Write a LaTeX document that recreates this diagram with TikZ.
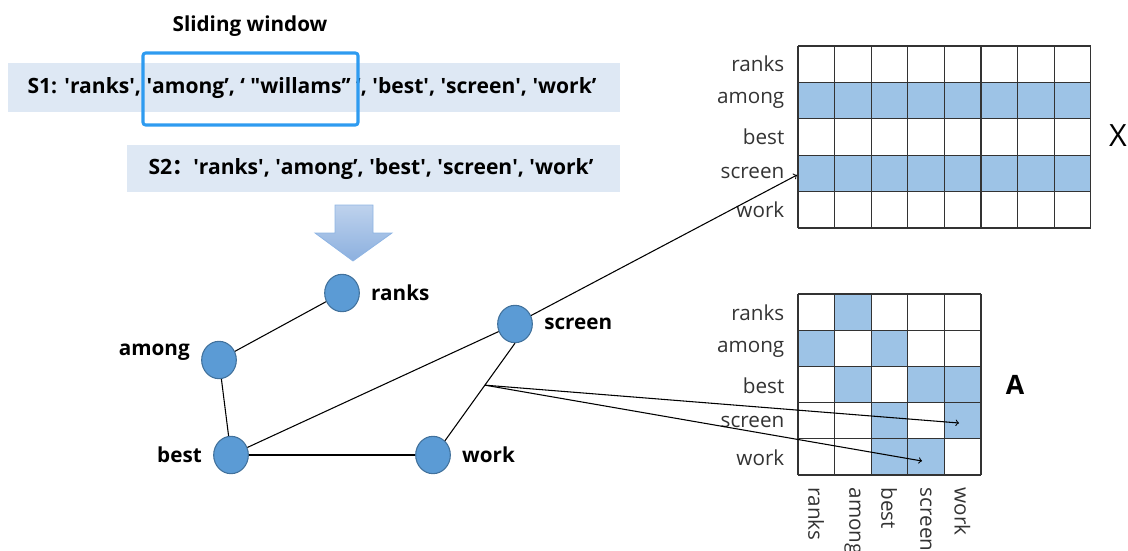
\documentclass[tikz,border=0pt]{standalone}
\usepackage{fontspec}
\setmainfont{Open Sans}
\newfontfamily\cjk{Noto Sans CJK SC}
\usetikzlibrary{calc,shapes.geometric}
\definecolor{band}{HTML}{DEE8F4}
\definecolor{window}{HTML}{2E9BF0}
\definecolor{wordfill}{HTML}{5B9BD5}
\definecolor{wordline}{HTML}{41719C}
\definecolor{cellfill}{HTML}{9DC3E6}
\definecolor{arrowtop}{HTML}{BED2ED}
\definecolor{arrowbot}{HTML}{8CB0DF}
\definecolor{arrowline}{HTML}{8EB4E3}
\definecolor{gridtext}{HTML}{333333}
\newcommand{\sq}{\textquotesingle}
\tikzset{
  word/.style={ellipse,fill=wordfill,draw=wordline,line width=0.8pt,
    minimum width=26pt,minimum height=28pt,inner sep=0pt},
  wordlbl/.style={font=\bfseries\fontsize{15.5}{18}\selectfont,label distance=5pt},
  rowlbl/.style={anchor=east,text=gridtext,font=\fontsize{15.5}{18}\selectfont},
  collbl/.style={anchor=west,rotate=-90,text=gridtext,font=\fontsize{15.5}{18}\selectfont},
  sentence/.style={font=\bfseries\fontsize{15.8}{19}\selectfont}
}

\begin{document}
\begin{tikzpicture}[x=0.75pt,y=-0.75pt]
\useasboundingbox (0,0) rectangle (1128,550);

% sentences and sliding window
\node[font=\bfseries\fontsize{15.5}{18}\selectfont] (title) at (250,26) {Sliding window};
\fill[band] (8,63) rectangle (620,112);
\fill[band] (127,145) rectangle (620,192);
\node[sentence] (s1) at (312,88) {S1: \sq ranks\sq, \sq among’, ‘ \textquotedbl willams’’ ‘, \sq best\sq, \sq screen\sq, \sq work’};
\node[sentence] (s2) at (371,169) {S2{\cjk ：}\sq ranks\sq, \sq among’, \sq best\sq, \sq screen\sq, \sq work’};
\draw[window,line width=2.3pt,rounded corners=2pt] (143,53) rectangle (358,125);

% down arrow
\shadedraw[top color=arrowtop,bottom color=arrowbot,draw=arrowline,line width=0.6pt]
  (335,205) -- (373,205) -- (373,233) -- (392,233) -- (353,261) -- (315,233) -- (335,233) -- cycle;

% graph
\node[word,label={[wordlbl]right:ranks}] (ranks) at (342,293) {};
\node[word,label={[wordlbl,yshift=6pt]left:among}] (among) at (219,360) {};
\node[word,label={[wordlbl]left:best}] (best) at (231,455) {};
\node[word,label={[wordlbl]right:work}] (work) at (433,455) {};
\node[word,label={[wordlbl]right:screen}] (screen) at (515,324) {};

\draw[line width=0.8pt] (ranks) -- (among);
\draw[line width=0.8pt] (among) -- (best);
\draw[line width=0.8pt] (best) -- (work);
\draw[line width=0.8pt] (best) -- (screen);
\draw[line width=0.8pt] (screen.south) -- coordinate[pos=0.43] (fork) (work.50);

% matrix X
\foreach \r in {1,3}
  \foreach \c in {0,...,7}
    \fill[cellfill] (798+36.6*\c,46+36.4*\r) rectangle ++(36.6,36.4);
\foreach \c in {0,...,8}
  \draw[gridtext,line width=0.8pt] (798+36.6*\c,46) -- (798+36.6*\c,228);
\foreach \r in {0,...,5}
  \draw[gridtext,line width=0.8pt] (798,46+36.4*\r) -- (1091,46+36.4*\r);
\foreach \w [count=\r from 0] in {ranks,among,best,screen,work}
  \node[rowlbl] (X-\w) at (789,64+36.4*\r) {\w};
\coordinate (Xscreen) at (797,175);
\node[font=\fontsize{23}{27}\selectfont] (Xname) at (1118,136) {X};

% matrix A
\foreach \r/\c in {0/1,1/0,1/2,2/1,2/3,2/4,3/2,3/4,4/2,4/3}
  \fill[cellfill] (798+36.6*\c,294+36.2*\r) rectangle ++(36.6,36.2);
\foreach \i in {0,...,5} {
  \draw[gridtext,line width=0.8pt] (798+36.6*\i,294) -- (798+36.6*\i,475);
  \draw[gridtext,line width=0.8pt] (798,294+36.2*\i) -- (981,294+36.2*\i);
}
\foreach \w [count=\r from 0] in {ranks,among,best,screen,work} {
  \node[rowlbl] (A-\w) at (789,313+36.2*\r) {\w};
  \node[collbl] (Acol-\w) at (816+36.6*\r,483) {\w};
}
\coordinate (A-3-4) at (959,423);
\coordinate (A-4-3) at (922,461);
\node[font=\bfseries\fontsize{20}{24}\selectfont] (Aname) at (1015,385) {A};

% arrows
\draw[->,line width=0.8pt] (screen) -- (Xscreen);
\draw[->,line width=0.8pt] (fork) -- (A-3-4);
\draw[->,line width=0.8pt] (fork) -- (A-4-3);
\end{tikzpicture}
\end{document}
